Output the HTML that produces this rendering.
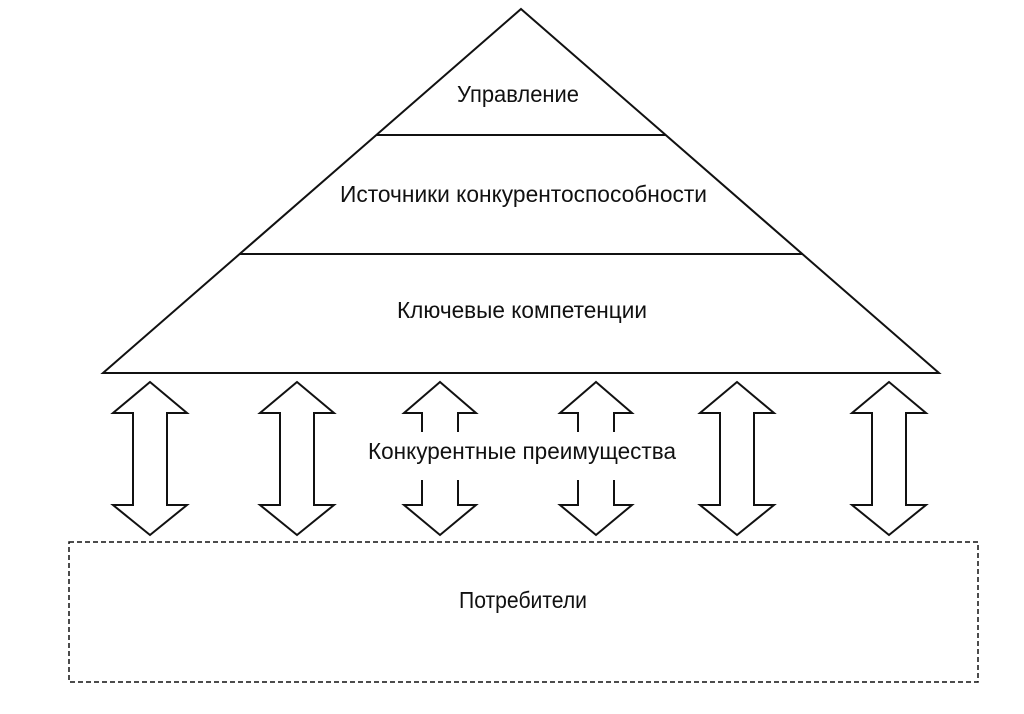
<!DOCTYPE html>
<html>
<head>
<meta charset="utf-8">
<style>
html,body{margin:0;padding:0;background:#fff;}
svg{display:block;}
text{font-family:"Liberation Sans","DejaVu Sans",sans-serif;font-size:23px;fill:#111;}
</style>
</head>
<body>
<svg width="1024" height="714" viewBox="0 0 1024 714" xmlns="http://www.w3.org/2000/svg">
  <rect width="1024" height="714" fill="#fff"/>
  <!-- Pyramid -->
  <polygon points="521,9 939,373 103,373" fill="#fff" stroke="#111" stroke-width="2" stroke-linejoin="miter"/>
  <line x1="376" y1="135" x2="666" y2="135" stroke="#111" stroke-width="2"/>
  <line x1="239" y1="254" x2="803" y2="254" stroke="#111" stroke-width="2"/>

  <text x="457" y="102" textLength="122" lengthAdjust="spacingAndGlyphs">Управление</text>
  <text x="340" y="202" textLength="367" lengthAdjust="spacingAndGlyphs">Источники конкурентоспособности</text>
  <text x="397" y="318" textLength="250" lengthAdjust="spacingAndGlyphs">Ключевые компетенции</text>

  <!-- Full double arrows -->
  <g fill="#fff" stroke="#111" stroke-width="2" stroke-linejoin="miter">
    <polygon points="150,382 187,413 167,413 167,505 187,505 150,535 113,505 133,505 133,413 113,413"/>
    <polygon points="297,382 334,413 314,413 314,505 334,505 297,535 260,505 280,505 280,413 260,413"/>
    <polygon points="737,382 774,413 754,413 754,505 774,505 737,535 700,505 720,505 720,413 700,413"/>
    <polygon points="889,382 926,413 906,413 906,505 926,505 889,535 852,505 872,505 872,413 852,413"/>
  </g>
  <!-- Broken arrows (text passes through) -->
  <g fill="none" stroke="#111" stroke-width="2" stroke-linejoin="miter">
    <polyline points="422,432 422,413 404,413 440,382 476,413 458,413 458,432"/>
    <polyline points="422,480 422,505 404,505 440,535 476,505 458,505 458,480"/>
    <polyline points="578,432 578,413 560,413 596,382 632,413 614,413 614,432"/>
    <polyline points="578,480 578,505 560,505 596,535 632,505 614,505 614,480"/>
  </g>

  <text x="368" y="459" textLength="308" lengthAdjust="spacingAndGlyphs">Конкурентные преимущества</text>

  <!-- Dashed consumers box -->
  <rect x="69" y="542" width="909" height="140" fill="none" stroke="#111" stroke-width="1.5" stroke-dasharray="5,3"/>
  <text x="459" y="608" textLength="128" lengthAdjust="spacingAndGlyphs">Потребители</text>
</svg>
</body>
</html>
